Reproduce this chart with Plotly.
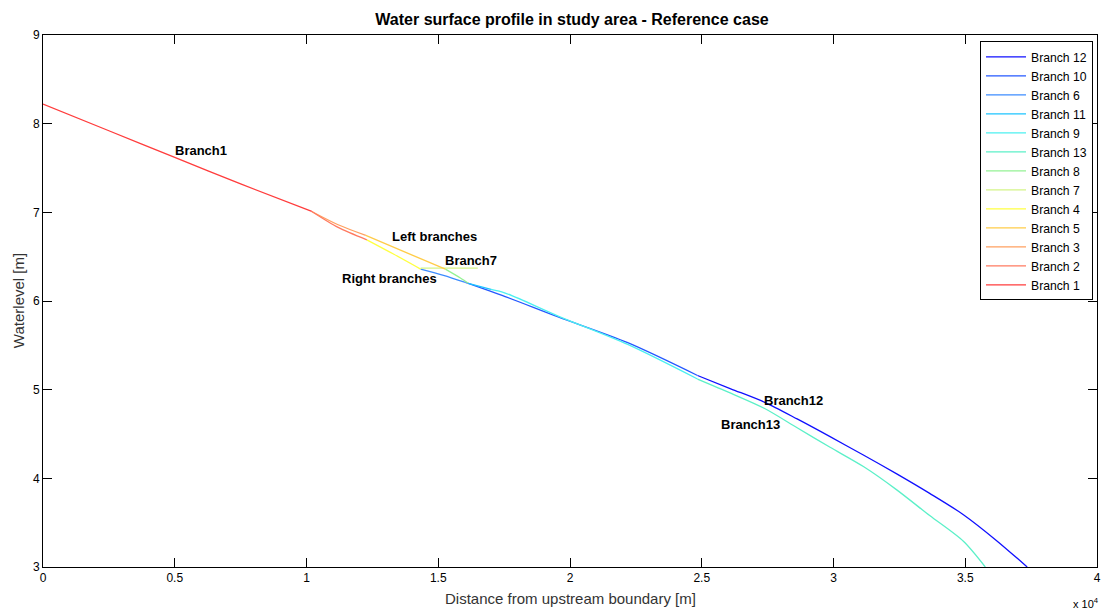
import plotly.graph_objects as go

# Water level profiles along each river branch (distance in m, level in m)
branch1_x = [0, 2500, 5000, 7500, 10200]
branch1_y = [8.22, 7.92, 7.62, 7.32, 7.01]

branch2_x = [10200, 11200, 12290]
branch2_y = [7.01, 6.83, 6.69]

branch3_x = [10200, 11200, 12250]
branch3_y = [7.01, 6.86, 6.74]

branch4_x = [12290, 13300, 14330]
branch4_y = [6.69, 6.53, 6.36]

branch5_x = [12250, 13990, 15270]
branch5_y = [6.74, 6.52, 6.36]

branch6_x = [14330, 15200, 16030]
branch6_y = [6.36, 6.29, 6.21]

branch7_x = [14330, 16500]
branch7_y = [6.37, 6.37]

branch8_x = [15270, 15840, 16140]
branch8_y = [6.36, 6.26, 6.20]

branch9_x = [17000, 17540, 19550, 22190, 24840]
branch9_y = [6.13, 6.09, 5.83, 5.51, 5.12]

branch10_x = [16030, 17540, 19550, 22190, 24840]
branch10_y = [6.21, 6.05, 5.82, 5.53, 5.16]

branch11_x = [16140, 17000]
branch11_y = [6.20, 6.13]

branch12_x = [24840, 26100, 27370, 28620, 29870, 31150, 32400, 33650, 34930, 36180, 37350]
branch12_y = [5.16, 5.01, 4.86, 4.67, 4.47, 4.26, 4.05, 3.83, 3.59, 3.30, 3.00]

branch13_x = [24840, 26100, 27370, 28620, 29870, 31150, 32400, 33650, 34930, 35760]
branch13_y = [5.12, 4.96, 4.79, 4.57, 4.35, 4.13, 3.87, 3.58, 3.29, 3.00]

x_tick_vals = [0, 5000, 10000, 15000, 20000, 25000, 30000, 35000, 40000]
x_tick_text = ["0", "0.5", "1", "1.5", "2", "2.5", "3", "3.5", "4"]
y_tick_vals = [3, 4, 5, 6, 7, 8, 9]

# Legend order and colours (jet-like ramp)
branches = [
    ("Branch 12", branch12_x, branch12_y, "#1010ff"),
    ("Branch 10", branch10_x, branch10_y, "#2458ff"),
    ("Branch 6", branch6_x, branch6_y, "#3c8cff"),
    ("Branch 11", branch11_x, branch11_y, "#1cc4ff"),
    ("Branch 9", branch9_x, branch9_y, "#4cf0f0"),
    ("Branch 13", branch13_x, branch13_y, "#5cf0c8"),
    ("Branch 8", branch8_x, branch8_y, "#94f294"),
    ("Branch 7", branch7_x, branch7_y, "#d4f488"),
    ("Branch 4", branch4_x, branch4_y, "#ffff40"),
    ("Branch 5", branch5_x, branch5_y, "#ffcc48"),
    ("Branch 3", branch3_x, branch3_y, "#ffa060"),
    ("Branch 2", branch2_x, branch2_y, "#ff7a60"),
    ("Branch 1", branch1_x, branch1_y, "#ff3c3c"),
]

# Text labels placed on the profile
labels = [
    ("Branch1", 4915, 7.70),
    ("Left branches", 13157, 6.73),
    ("Branch7", 15198, 6.46),
    ("Right branches", 11267, 6.25),
    ("Branch12", 27297, 4.88),
    ("Branch13", 25671, 4.61),
]

FONT = "Liberation Sans, Arial, Helvetica, sans-serif"

fig = go.Figure()
for name, xs, ys, color in branches:
    fig.add_trace(go.Scatter(
        x=xs, y=ys, mode="lines", name=name,
        line=dict(color=color, width=1.3, shape="spline", smoothing=0.8),
    ))

annotations = []
for text, lx, ly in labels:
    annotations.append(dict(
        x=lx, y=ly, xref="x", yref="y", text=f"<b>{text}</b>",
        showarrow=False, xanchor="left", yanchor="middle",
        font=dict(family=FONT, size=13, color="black"),
    ))

# Axis titles and exponent marker
annotations += [
    dict(x=0.5, y=-0.060, xref="paper", yref="paper",
         text="Distance from upstream boundary [m]", showarrow=False,
         xanchor="center", yanchor="middle",
         font=dict(family=FONT, size=15, color="#333333")),
    dict(x=-0.0236, y=0.5, xref="paper", yref="paper",
         text="Waterlevel [m]", showarrow=False, textangle=-90,
         xanchor="center", yanchor="middle",
         font=dict(family=FONT, size=15, color="#333333")),
    dict(x=0.99, y=-0.068, xref="paper", yref="paper",
         text="x 10<sup>4</sup>", showarrow=False,
         xanchor="center", yanchor="middle",
         font=dict(family=FONT, size=11, color="black")),
]

axis_common = dict(
    showline=True, linecolor="black", linewidth=1, mirror="ticks",
    ticks="inside", ticklen=9, tickcolor="black", tickwidth=1,
    showgrid=False, zeroline=False,
    tickfont=dict(family=FONT, size=12, color="black"),
)

fig.update_layout(
    width=1107, height=610,
    margin=dict(l=43, r=6, t=35, b=43),
    paper_bgcolor="white", plot_bgcolor="white",
    title=dict(
        text="<b>Water surface profile in study area - Reference case</b>",
        x=(43 + 1101) / 2 / 1107, xanchor="center",
        y=1 - 19 / 610, yanchor="middle", yref="container",
        font=dict(family=FONT, size=16, color="black"),
    ),
    xaxis=dict(range=[0, 40000], tickvals=x_tick_vals, ticktext=x_tick_text, **axis_common),
    yaxis=dict(range=[3, 9], tickvals=y_tick_vals, **axis_common),
    legend=dict(
        x=0.889, y=0.988, xanchor="left", yanchor="top",
        bgcolor="white", bordercolor="black", borderwidth=1,
        font=dict(family=FONT, size=12.2, color="black"),
        tracegroupgap=0, itemwidth=40,
    ),
    showlegend=True,
    annotations=annotations,
)

fig.write_html("out.html")
